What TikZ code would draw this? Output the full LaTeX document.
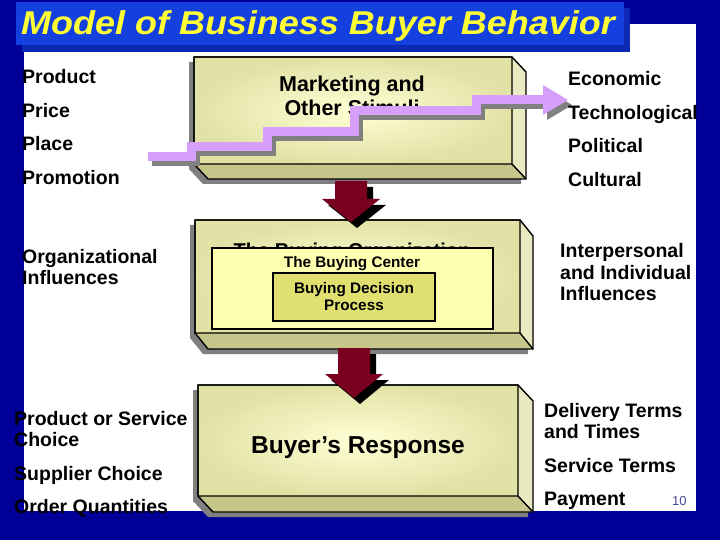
\documentclass[tikz,border=0pt]{standalone}
\usepackage{fontspec}
\setmainfont{Liberation Sans}
\usetikzlibrary{calc}
\definecolor{bgblue}{RGB}{0,0,153}
\definecolor{titleblue}{RGB}{20,64,224}
\definecolor{titleshadow}{RGB}{12,40,180}
\definecolor{titleyellow}{RGB}{255,255,51}
\definecolor{faceout}{RGB}{226,226,166}
\definecolor{facein}{RGB}{255,255,214}
\definecolor{bevelbottom}{RGB}{198,198,138}
\definecolor{bevelright}{RGB}{234,234,194}
\definecolor{shadowgray}{RGB}{128,128,128}
\definecolor{stairlav}{RGB}{214,160,250}
\definecolor{arrowred}{RGB}{122,0,32}
\definecolor{centerfill}{RGB}{255,255,176}
\definecolor{decisionfill}{RGB}{224,224,112}
\definecolor{pagenum}{RGB}{70,70,150}
\newcommand\bevelblock[6]{%
  \fill[shadowgray] (#1-5,#2+5) -- (#3-5,#2+5) -- (#3+#5-5,#2+#6+5) -- (#3+#5-5,#4+#6+5) -- (#1+#5-5,#4+#6+5) -- (#1-5,#4+5) -- cycle;
  \shade[inner color=facein, outer color=faceout] (#1,#2) rectangle (#3,#4);
  \fill[bevelright] (#3,#2) -- (#3+#5,#2+#6) -- (#3+#5,#4+#6) -- (#3,#4) -- cycle;
  \fill[bevelbottom] (#1,#4) -- (#3,#4) -- (#3+#5,#4+#6) -- (#1+#5,#4+#6) -- cycle;
  \draw[boxline] (#1,#2) -- (#3,#2) -- (#3+#5,#2+#6) -- (#3+#5,#4+#6) -- (#1+#5,#4+#6) -- (#1,#4) -- cycle;
  \draw[boxline] (#1,#2) rectangle (#3,#4) (#3,#4) -- (#3+#5,#4+#6);
}
\newcommand\blockarrow[4]{%
  \fill[black, shift={(6pt,-6pt)}] (#1-16,#2) -- (#1+16,#2) -- (#1+16,#3) -- (#1+29,#3) -- (#1,#4) -- (#1-29,#3) -- (#1-16,#3) -- cycle;
  \fill[arrowred] (#1-16,#2) -- (#1+16,#2) -- (#1+16,#3) -- (#1+29,#3) -- (#1,#4) -- (#1-29,#3) -- (#1-16,#3) -- cycle;
}
\newcommand\stairline{(148,157) -- (191,157) -- (191,146.5) -- (267.5,146.5) -- (267.5,131.5) -- (354,131.5) -- (354,110.5) -- (476.5,110.5) -- (476.5,100) -- (545,100)}
\tikzset{
  boxline/.style={line width=1.4pt, line join=miter},
  lbl/.style={anchor=base west, inner sep=0pt, font=\fontsize{19.5}{21}\selectfont\bfseries},
  ctr/.style={anchor=base, inner sep=0pt},
}
\begin{document}
\begin{tikzpicture}[x=1pt,y=-1pt]
\useasboundingbox (0,0) rectangle (720,540);
\fill[bgblue] (0,0) rectangle (720,540);
\fill[white] (24,24) rectangle (696,511);
% title
\fill[titleshadow] (22,8) rectangle (630,52);
\fill[titleblue] (16,2) rectangle (624,45);
\node[anchor=base west, inner sep=0pt, text=titleyellow, font=\fontsize{33}{33}\selectfont\bfseries\itshape] (title) at (21,35) {\scalebox{1.09}[1]{Model of Business Buyer Behavior}};
% box 1
\bevelblock{194}{57}{512}{164}{14}{15}
\node[ctr, font=\fontsize{21.5}{22}\selectfont\bfseries] (mk1) at (352,92) {Marketing and};
\node[ctr, font=\fontsize{21.5}{22}\selectfont\bfseries] (mk2) at (352,116) {Other Stimuli};
% stair arrow
\begin{scope}[shift={(4pt,-5pt)}]
\draw[shadowgray, line width=9pt, line join=miter] \stairline;
\fill[shadowgray] (543,85) -- (568,100) -- (543,115) -- cycle;
\end{scope}
\draw[stairlav, line width=9pt, line join=miter] \stairline;
\fill[stairlav] (543,85) -- (568,100) -- (543,115) -- cycle;
% box 2
\bevelblock{195}{220}{520}{333}{13}{16}
\node[ctr, font=\fontsize{20}{20}\selectfont\bfseries] (org) at (352,257) {The Buying Organization};
\draw[line width=1.3pt, fill=centerfill] (212,248) rectangle (493,329);
\node[ctr, font=\fontsize{15.3}{16}\selectfont\bfseries] (bc) at (352,267) {The Buying Center};
\draw[line width=1.3pt, fill=decisionfill] (273,273) rectangle (435,321);
\node[ctr, font=\fontsize{15.3}{16}\selectfont\bfseries] (bd1) at (354,293) {Buying Decision};
\node[ctr, font=\fontsize{15.3}{16}\selectfont\bfseries] (bd2) at (354,310) {Process};
% arrow 1
\blockarrow{351}{181}{199}{222}
% box 3
\bevelblock{198}{385}{518}{496}{15}{16}
\node[ctr, font=\fontsize{24.5}{25}\selectfont\bfseries] (resp) at (358,453) {Buyer’s Response};
% arrow 2
\blockarrow{354}{348}{374}{398}
% left labels
\node[lbl] (l1) at (22,84) {Product};
\node[lbl] (l2) at (22,117.5) {Price};
\node[lbl] (l3) at (22,151) {Place};
\node[lbl] (l4) at (22,184.5) {Promotion};
\node[lbl] (l5) at (22,263) {Organizational};
\node[lbl] (l6) at (22,284) {Influences};
\node[lbl] (l7) at (14,425) {Product or Service};
\node[lbl] (l8) at (14,446) {Choice};
\node[lbl] (l9) at (14,480) {Supplier Choice};
\node[lbl] (l10) at (14,513) {Order Quantities};
% right labels
\node[lbl] (r1) at (568,86) {Economic};
\node[lbl] (r2) at (568,119.5) {Technological};
\node[lbl] (r3) at (568,153) {Political};
\node[lbl] (r4) at (568,187) {Cultural};
\node[lbl] (r5) at (560,258) {Interpersonal};
\node[lbl] (r6) at (560,279) {and Individual};
\node[lbl] (r7) at (560,300) {Influences};
\node[lbl] (r8) at (544,417) {Delivery Terms};
\node[lbl] (r9) at (544,438) {and Times};
\node[lbl] (r10) at (544,472) {Service Terms};
\node[lbl] (r11) at (544,505) {Payment};
\node[anchor=base west, inner sep=0pt, text=pagenum, font=\fontsize{13}{13}\selectfont] (pg) at (672,505) {10};
\end{tikzpicture}
\end{document}
